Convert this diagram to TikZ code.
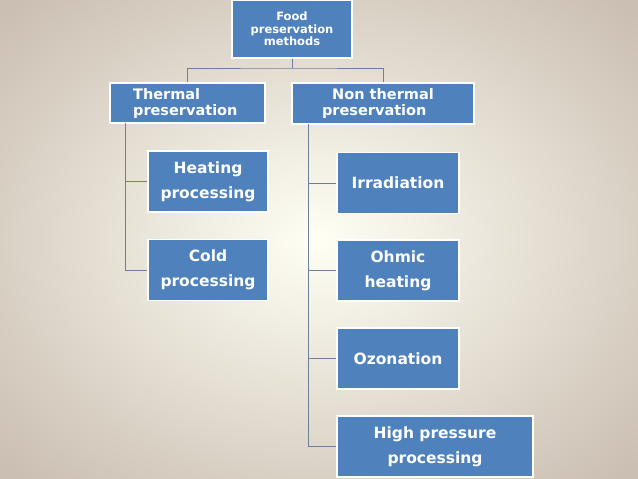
\documentclass[tikz,border=0pt]{standalone}
\usepackage{fontspec}
\setmainfont{DejaVu Sans}
\begin{document}
\begin{tikzpicture}[x=1pt,y=-1pt,
  box/.style={draw=white,line width=1.2pt,fill=boxblue,text=white,font=\bfseries,align=center,inner sep=1pt},
  conn/.style={draw=linegray,line width=0.9pt}]
\definecolor{boxblue}{HTML}{4F81BD}
\definecolor{linegray}{HTML}{6F7F9A}
\useasboundingbox (0,0) rectangle (638,479);
\shade[inner color=white!96!yellow, outer color=black!45!brown!35!white] (-120,-90) rectangle (758,569);
\node[box,font=\bfseries\fontsize{11.5}{12.5}\selectfont,minimum width=120,minimum height=58] (root) at (292,29) {Food\\preservation\\methods};
\node[box,font=\bfseries\fontsize{14.5}{16}\selectfont,minimum width=155,minimum height=40,align=left] (th) at (187.5,103) {Thermal\\preservation\hspace{0.3em}\mbox{}};
\node[box,font=\bfseries\fontsize{14.5}{16}\selectfont,minimum width=182,minimum height=41] (nt) at (383,103.5) {Non thermal\\preservation\hspace{1.2em}\mbox{}};
\tikzset{leaf/.style={box,font=\bfseries\fontsize{15.5}{25}\selectfont,minimum height=61}}
\node[leaf,minimum width=120] (heat) at (208,181.5) {Heating\\processing};
\node[leaf,minimum width=120] (cold) at (208,270) {Cold\\processing};
\node[leaf,minimum width=122] (irr) at (398,183) {Irradiation};
\node[leaf,minimum width=122] (ohm) at (398,270.5) {Ohmic\\heating};
\node[leaf,minimum width=122] (ozo) at (398,358.5) {Ozonation};
\node[leaf,minimum width=196] (hpp) at (435,446.5) {High pressure\\processing};
\coordinate (j) at (292,68);
\draw[conn] (root.south) -- (j);
\draw[conn] (th.north) |- (j) -| (nt.north);
\coordinate (ta) at (125,123);
\coordinate (na) at (308,124);
\draw[conn] (ta) |- (heat.west);
\draw[conn] (ta) |- (cold.west);
\draw[conn] (na) |- (irr.west);
\draw[conn] (na) |- (ohm.west);
\draw[conn] (na) |- (ozo.west);
\draw[conn] (na) |- (hpp.west);
\end{tikzpicture}
\end{document}
